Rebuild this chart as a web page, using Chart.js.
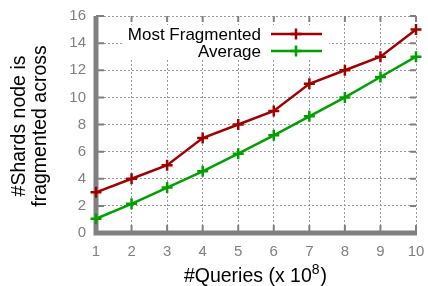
<!DOCTYPE html>
<html>
<head>
<meta charset="utf-8">
<script src="https://cdn.jsdelivr.net/npm/chart.js@4.4.0/dist/chart.umd.min.js"></script>
<style>
html,body{margin:0;padding:0;background:#fff;}
#wrap{width:428px;height:286px;position:relative;}
</style>
</head>
<body>
<div id="wrap"><canvas id="c" width="428" height="286"></canvas></div>
<script>
const queries = [1, 2, 3, 4, 5, 6, 7, 8, 9, 10];
const mostFragmented = [3, 4, 5, 7, 8, 9, 11, 12, 13, 15];
const average = [1.05, 2.15, 3.35, 4.55, 5.85, 7.2, 8.6, 10.0, 11.5, 13.0];
const seriesNames = ['Most Fragmented', 'Average'];
const yTitleLines = ['#Shards node is', 'fragmented across'];
const xTitle = '#Queries (x 10';
const xTitleSup = '8';

const RED = '#a00000';
const GREEN = '#00a000';
const GRAY = '#808080';
const FONT = '"Liberation Sans", Arial, sans-serif';

const gnuplotPlugin = {
  id: 'gnuplot',
  beforeDatasetsDraw(chart) {
    const ctx = chart.ctx;
    const a = chart.chartArea;
    const xs = chart.scales.x, ys = chart.scales.y;
    ctx.save();
    // legend box (white, hides grid)
    ctx.fillStyle = '#fff';
    ctx.fillRect(122, 25, 207, 33);
    // inward tick marks
    ctx.strokeStyle = GRAY;
    ctx.lineWidth = 2;
    ctx.beginPath();
    queries.forEach(q => {
      const px = xs.getPixelForValue(q);
      ctx.moveTo(px, a.bottom); ctx.lineTo(px, a.bottom - 8);
      ctx.moveTo(px, a.top); ctx.lineTo(px, a.top + 6);
    });
    for (let v = 0; v <= 16; v += 2) {
      const py = ys.getPixelForValue(v);
      ctx.moveTo(a.left, py); ctx.lineTo(a.left + 8, py);
      ctx.moveTo(a.right, py); ctx.lineTo(a.right - 6, py);
    }
    ctx.stroke();
    // axis lines
    ctx.lineWidth = 5;
    ctx.lineCap = 'butt';
    ctx.beginPath();
    ctx.moveTo(a.left, a.top);
    ctx.lineTo(a.left, a.bottom + 2.5);
    ctx.moveTo(a.left - 2.5, a.bottom);
    ctx.lineTo(a.right + 1, a.bottom);
    ctx.stroke();
    ctx.restore();
  },
  afterDraw(chart) {
    const ctx = chart.ctx;
    ctx.save();
    // legend
    const rows = [[seriesNames[0], RED, 34], [seriesNames[1], GREEN, 51]];
    ctx.font = '17px ' + FONT;
    ctx.textAlign = 'right';
    ctx.textBaseline = 'middle';
    rows.forEach(([t, col, y]) => {
      ctx.fillStyle = '#000';
      ctx.fillText(t, 261, y + 1);
      ctx.strokeStyle = col;
      ctx.lineWidth = 2.5;
      ctx.lineCap = 'butt';
      ctx.beginPath();
      ctx.moveTo(271, y); ctx.lineTo(322, y);
      ctx.stroke();
      ctx.lineWidth = 2.5;
      ctx.beginPath();
      ctx.moveTo(296, y - 5.5); ctx.lineTo(296, y + 5.5);
      ctx.moveTo(290.5, y); ctx.lineTo(301.5, y);
      ctx.stroke();
    });
    // y title
    ctx.fillStyle = '#000';
    ctx.font = '19.5px ' + FONT;
    ctx.textAlign = 'center';
    ctx.textBaseline = 'middle';
    ctx.translate(31, 126);
    ctx.rotate(-Math.PI / 2);
    ctx.fillText(yTitleLines[0], 0, -11);
    ctx.fillText(yTitleLines[1], 0, 10);
    ctx.setTransform(1, 0, 0, 1, 0, 0);
    // x title with superscript
    const big = '19.5px ' + FONT, small = '14px ' + FONT;
    ctx.font = big;
    const w1 = ctx.measureText(xTitle).width;
    ctx.font = small;
    const w2 = ctx.measureText(xTitleSup).width;
    ctx.font = big;
    const total = w1 + w2 + 1 + ctx.measureText(')').width;
    const x0 = 255.5 - total / 2;
    ctx.textAlign = 'left';
    ctx.textBaseline = 'alphabetic';
    ctx.fillText(xTitle, x0, 282);
    ctx.font = small;
    ctx.fillText(xTitleSup, x0 + w1, 274);
    ctx.font = big;
    ctx.fillText(')', x0 + w1 + w2 + 1, 282);
    ctx.restore();
  }
};

new Chart(document.getElementById('c'), {
  type: 'line',
  data: {
    datasets: [
      {
        label: seriesNames[0],
        data: queries.map((q, i) => ({x: q, y: mostFragmented[i]})),
        borderColor: RED, backgroundColor: RED,
        borderWidth: 2.5, pointStyle: 'cross', pointRadius: 5.5,
        pointBorderWidth: 2.5, tension: 0, clip: false
      },
      {
        label: seriesNames[1],
        data: queries.map((q, i) => ({x: q, y: average[i]})),
        borderColor: GREEN, backgroundColor: GREEN,
        borderWidth: 2.5, pointStyle: 'cross', pointRadius: 5.5,
        pointBorderWidth: 2.5, tension: 0, clip: false
      }
    ]
  },
  plugins: [gnuplotPlugin],
  options: {
    responsive: false,
    animation: false,
    devicePixelRatio: 1,
    layout: {padding: {left: 0, right: 12, top: 16, bottom: 0}},
    plugins: {legend: {display: false}, tooltip: {enabled: false}},
    scales: {
      x: {
        type: 'linear', min: 1, max: 10,
        afterFit(s) { s.height = 53; s.paddingLeft = 0; s.paddingRight = 0; },
        ticks: {stepSize: 1, color: GRAY, font: {size: 15, family: FONT}, padding: 10},
        grid: {color: '#999', lineWidth: 1, drawTicks: false},
        border: {display: false, dash: [2, 2]}
      },
      y: {
        min: 0, max: 16,
        afterFit(s) { s.width = 96; s.paddingTop = 0; s.paddingBottom = 0; },
        ticks: {stepSize: 2, color: GRAY, font: {size: 15, family: FONT}, padding: 10},
        grid: {color: '#999', lineWidth: 1, drawTicks: false},
        border: {display: false, dash: [2, 2]}
      }
    }
  }
});
</script>
</body>
</html>
